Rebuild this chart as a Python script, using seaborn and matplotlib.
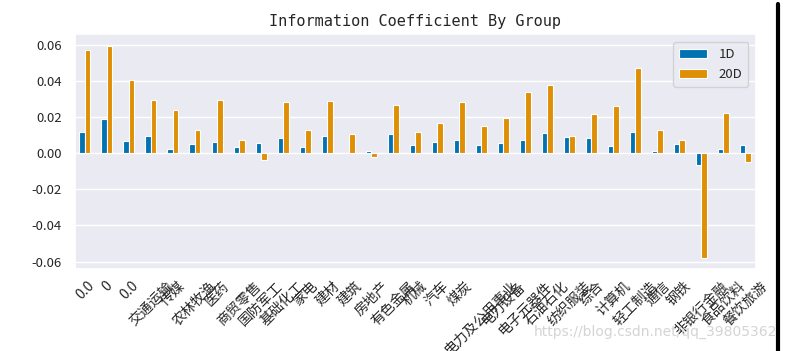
import pandas as pd
import matplotlib.pyplot as plt
from matplotlib.lines import Line2D
import seaborn as sns

# Set style
sns.set_theme(style="darkgrid", palette="colorblind")
plt.rcParams['font.family'] = ['Noto Sans CJK SC', 'DejaVu Sans']
plt.rcParams['axes.unicode_minus'] = False

# Data
groups = ['0.0', '0', '0.0', '交通运输', '传媒', '农林牧渔', '医药', '商贸零售',
          '国防军工', '基础化工', '家电', '建材', '建筑', '房地产', '有色金属',
          '机械', '汽车', '煤炭', '电力及公用事业', '电力设备', '电子元器件',
          '石油石化', '纺织服装', '综合', '计算机', '轻工制造', '通信', '钢铁',
          '非银行金融', '食品饮料', '餐饮旅游']
ic_1d = [0.0114, 0.0187, 0.0064, 0.0094, 0.0022, 0.0050, 0.0059, 0.0033,
         0.0053, 0.0084, 0.0033, 0.0097, 0.0000, 0.0009, 0.0103, 0.0042,
         0.0059, 0.0072, 0.0042, 0.0053, 0.0072, 0.0112, 0.0090, 0.0086,
         0.0037, 0.0114, 0.0009, 0.0051, -0.0068, 0.0022, 0.0042]
ic_20d = [0.0569, 0.0594, 0.0404, 0.0295, 0.0237, 0.0125, 0.0295, 0.0073,
          -0.0037, 0.0284, 0.0125, 0.0290, 0.0106, -0.0024, 0.0264, 0.0117,
          0.0167, 0.0284, 0.0150, 0.0193, 0.0338, 0.0378, 0.0095, 0.0218,
          0.0261, 0.0472, 0.0130, 0.0070, -0.0581, 0.0224, -0.0050]
periods = ['1D', '20D']

# long format; group position used as key since labels repeat
n = len(groups)
df = pd.DataFrame({
    'pos': list(range(n)) * 2,
    'period': ['1D'] * n + ['20D'] * n,
    'ic': ic_1d + ic_20d,
})

fig = plt.figure(figsize=(7.88, 3.51), dpi=100)
ax = fig.add_axes([0.0952, 0.233, 0.8638, 0.669])

sns.barplot(data=df, x='pos', y='ic', hue='period', hue_order=periods,
            order=list(range(n)), width=0.5, errorbar=None, saturation=1,
            edgecolor='white', linewidth=0.8, ax=ax)

ax.set_xticks(range(n))
ax.set_xticklabels(groups, rotation=45, ha='center', fontsize=10)
ax.tick_params(axis='y', labelsize=9.5)
ax.tick_params(axis='x', pad=1)
ax.set_xlim(-0.45, n - 1 + 0.47)
ax.set_ylim(-0.0642, 0.0656)
ax.set_xlabel('')
ax.set_ylabel('')
ax.set_title('Information Coefficient By Group', fontsize=11,
             family=['DejaVu Sans Mono'], pad=6)

handles, labels = ax.get_legend_handles_labels()
ax.legend(handles, labels, loc='upper right', fontsize=9.5, frameon=True,
          handlelength=2.1, handletextpad=0.9, borderpad=0.45,
          labelspacing=0.5, borderaxespad=0,
          bbox_to_anchor=(0.989, 0.966))

# screenshot leftovers: border line and watermark
fig.add_artist(Line2D([0.9873, 0.9873], [0.0, 0.988], color='black',
                      linewidth=3, transform=fig.transFigure))
fig.text(0.986, 0.035, 'https://blog.csdn.net/qq_39805362', ha='right',
         va='bottom', fontsize=10, color='#d4d4d4', family=['DejaVu Sans'])

fig.savefig('out.png', dpi=100)
